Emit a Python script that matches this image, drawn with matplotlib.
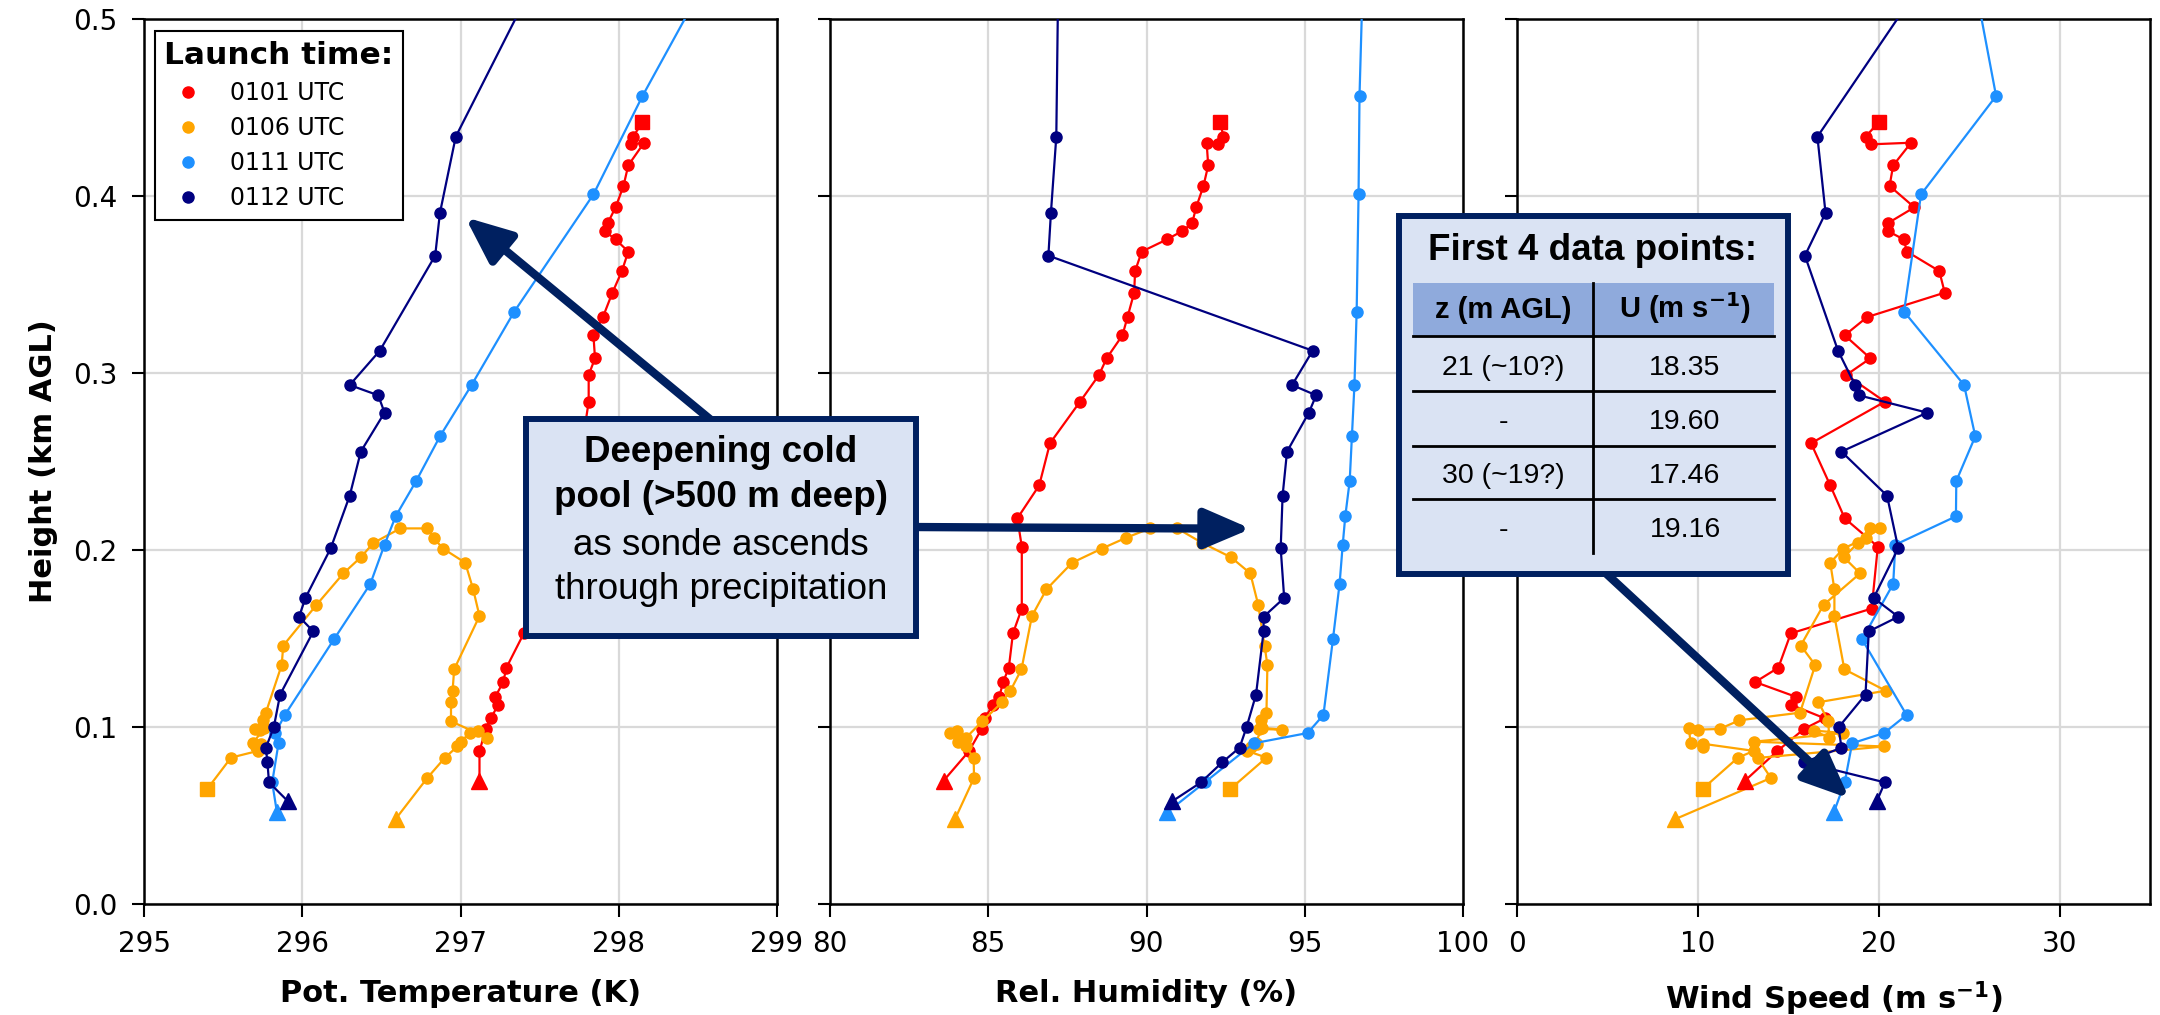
import matplotlib
matplotlib.use('Agg')
import matplotlib.pyplot as plt
from matplotlib.patches import Rectangle
from matplotlib.lines import Line2D
from matplotlib.ticker import FormatStrFormatter

W, H = 2160, 1015

# 0101 UTC sonde
z_0101 = [0.0697, 0.0863, 0.0989, 0.1049, 0.1126, 0.1171, 0.1254, 0.1335, 0.1529, 0.1669, 0.2019,
          0.2179, 0.2365, 0.2603, 0.2838, 0.2989, 0.3083, 0.3213, 0.3316, 0.3454, 0.3576, 0.3686,
          0.3755, 0.3802, 0.3846, 0.3936, 0.4057, 0.4173, 0.4301, 0.4292, 0.4335, 0.4416]
th_0101 = [297.12, 297.12, 297.16, 297.19, 297.24, 297.22, 297.27, 297.29, 297.40, 297.47, 297.58,
           297.64, 297.70, 297.77, 297.81, 297.81, 297.85, 297.84, 297.90, 297.96, 298.02, 298.06,
           297.98, 297.91, 297.93, 297.98, 298.03, 298.06, 298.16, 298.08, 298.09, 298.15]
rh_0101 = [83.59, 84.39, 84.79, 84.89, 85.15, 85.35, 85.47, 85.65, 85.78, 86.06, 86.06,
           85.92, 86.61, 86.95, 87.90, 88.50, 88.74, 89.24, 89.40, 89.61, 89.64, 89.85,
           90.65, 91.13, 91.44, 91.57, 91.80, 91.95, 91.90, 92.25, 92.43, 92.33]
ws_0101 = [12.61, 14.38, 15.87, 17.02, 15.14, 15.41, 13.17, 14.45, 15.14, 19.61, 19.95,
           18.12, 17.32, 16.26, 20.34, 18.21, 19.54, 18.12, 19.36, 23.65, 23.35, 21.56,
           21.38, 20.50, 20.50, 21.97, 20.60, 20.80, 21.79, 19.59, 19.27, 20.00]

# 0106 UTC sonde (goes up then comes back down)
z_0106 = [0.048, 0.0712, 0.0825, 0.089, 0.0917, 0.0966, 0.098, 0.094, 0.1032, 0.114, 0.1205,
          0.1326, 0.1627, 0.1778, 0.1928, 0.2008, 0.2068, 0.2122, 0.2122, 0.204, 0.1959, 0.1868,
          0.169, 0.146, 0.135, 0.1081, 0.1038, 0.0989, 0.0985, 0.0995, 0.091, 0.0885, 0.0905,
          0.0865, 0.0827, 0.065]
th_0106 = [296.59, 296.79, 296.90, 296.98, 297.00, 297.06, 297.11, 297.17, 296.94, 296.94, 296.95,
           296.96, 297.12, 297.08, 297.03, 296.89, 296.83, 296.79, 296.62, 296.45, 296.37, 296.26,
           296.09, 295.88, 295.87, 295.77, 295.75, 295.70, 295.73, 295.76, 295.69, 295.71, 295.74,
           295.72, 295.55, 295.40]
rh_0106 = [83.95, 84.55, 84.54, 84.30, 84.05, 83.80, 84.00, 84.30, 84.81, 85.44, 85.70,
           86.05, 86.38, 86.84, 87.65, 88.59, 89.34, 90.11, 90.97, 91.76, 92.67, 93.28,
           93.53, 93.73, 93.82, 93.79, 93.62, 93.55, 94.29, 93.65, 93.45, 93.30, 93.50,
           93.18, 93.79, 92.65]
ws_0106 = [8.76, 14.04, 13.30, 20.30, 13.09, 18.05, 16.40, 17.25, 17.22, 16.67, 20.39,
           18.10, 17.55, 17.55, 17.32, 18.05, 19.27, 20.07, 19.50, 18.85, 18.07, 18.97,
           16.95, 15.69, 16.49, 15.65, 12.30, 11.20, 10.00, 9.50, 9.60, 10.30, 10.30,
           13.10, 12.22, 10.26]

# 0111 UTC sonde
z_0111 = [0.0518, 0.0687, 0.0908, 0.0966, 0.1068, 0.1495, 0.1808, 0.203, 0.219, 0.239,
          0.2642, 0.2932, 0.3347, 0.4009, 0.4565, 0.52]
th_0111 = [295.84, 295.81, 295.85, 295.83, 295.89, 296.20, 296.43, 296.52, 296.59, 296.72,
           296.87, 297.07, 297.34, 297.84, 298.15, 298.54]
rh_0111 = [90.65, 91.84, 93.39, 95.09, 95.59, 95.89, 96.10, 96.20, 96.28, 96.42,
           96.49, 96.57, 96.64, 96.70, 96.73, 96.83]
ws_0111 = [17.52, 18.12, 18.53, 20.30, 21.54, 19.08, 20.80, 20.92, 24.27, 24.29,
           25.34, 24.72, 21.40, 22.34, 26.49, 25.32]

# 0112 UTC sonde
z_0112 = [0.058, 0.0687, 0.080, 0.0883, 0.0998, 0.1183, 0.154, 0.1623, 0.1729, 0.201,
          0.2307, 0.2556, 0.2776, 0.2874, 0.2932, 0.3126, 0.3663, 0.3904, 0.4335, 0.55]
th_0112 = [295.91, 295.79, 295.78, 295.77, 295.82, 295.86, 296.07, 295.98, 296.02, 296.18,
           296.30, 296.37, 296.52, 296.48, 296.30, 296.49, 296.84, 296.87, 296.97, 297.63]
rh_0112 = [90.81, 91.72, 92.39, 92.94, 93.16, 93.46, 93.70, 93.70, 94.35, 94.24,
           94.30, 94.44, 95.13, 95.36, 94.60, 95.25, 86.90, 86.98, 87.15, 87.23]
ws_0112 = [19.89, 20.34, 15.87, 17.94, 17.78, 19.27, 19.45, 21.08, 19.72, 21.08,
           20.46, 17.94, 22.68, 18.90, 18.69, 17.75, 15.92, 17.06, 16.61, 24.35]

launches = ['0101 UTC', '0106 UTC', '0111 UTC', '0112 UTC']
colors = ['red', 'orange', 'dodgerblue', 'navy']

table_z = ['21 (~10?)', '-', '30 (~19?)', '-']
table_u = ['18.35', '19.60', '17.46', '19.16']

BOX_FACE = '#dae3f3'
BOX_EDGE = '#002060'


def fx(px):
    return px / W


def fy(py):
    return 1 - py / H


def setup_axis(ax, xlim, xticks, xlabel):
    ax.set_xlim(xlim)
    ax.set_ylim(0, 0.5)
    ax.set_xticks(xticks)
    ax.set_yticks([0.0, 0.1, 0.2, 0.3, 0.4, 0.5])
    ax.yaxis.set_major_formatter(FormatStrFormatter('%.1f'))
    ax.grid(True, color='#d9d9d9', lw=1.6)
    ax.set_axisbelow(True)
    for sp in ax.spines.values():
        sp.set_linewidth(1.8)
    ax.tick_params(direction='out', length=9, width=1.5, labelsize=20, pad=10)
    ax.set_xlabel(xlabel, fontsize=22, fontweight='bold', labelpad=15)


def plot_sondes(ax, zs, xs):
    for z, x, c in zip(zs, xs, colors):
        ax.plot(x, z, '-', color=c, lw=1.6, zorder=3)
        ax.plot(x[1:-1], z[1:-1], 'o', color=c, ms=8, zorder=3)
        ax.plot(x[0], z[0], '^', color=c, ms=12, zorder=4)
        ax.plot(x[-1], z[-1], 's', color=c, ms=10, zorder=4)


def main():
    fig = plt.figure(figsize=(W / 100, H / 100), dpi=100)
    top, bot = 19, 904
    lefts = [144, 830, 1517]
    width = 633
    axes = [fig.add_axes([fx(l), fy(bot), width / W, (bot - top) / H]) for l in lefts]
    ax1, ax2, ax3 = axes

    zs = [z_0101, z_0106, z_0111, z_0112]
    plot_sondes(ax1, zs, [th_0101, th_0106, th_0111, th_0112])
    plot_sondes(ax2, zs, [rh_0101, rh_0106, rh_0111, rh_0112])
    plot_sondes(ax3, zs, [ws_0101, ws_0106, ws_0111, ws_0112])

    setup_axis(ax1, (295, 299), [295, 296, 297, 298, 299], 'Pot. Temperature (K)')
    setup_axis(ax2, (80, 100), [80, 85, 90, 95, 100], 'Rel. Humidity (%)')
    setup_axis(ax3, (0, 35), [0, 10, 20, 30], 'Wind Speed (m s$^{\\mathbf{-1}}$)')
    ax2.set_yticklabels([])
    ax3.set_yticklabels([])
    ax1.set_ylabel('Height (km AGL)', fontsize=22, fontweight='bold', labelpad=11)

    handles = [Line2D([], [], marker='o', ls='none', color=c, ms=8) for c in colors]
    leg = ax1.legend(handles, launches, loc='upper left', bbox_to_anchor=(0.017, 0.986),
                     borderaxespad=0, fontsize=17, title='Launch time:',
                     title_fontproperties={'weight': 'bold', 'size': 22.5},
                     fancybox=False, edgecolor='black', framealpha=1, alignment='left',
                     handlelength=2.0, handletextpad=0.8, labelspacing=0.47,
                     borderpad=0.4)
    leg.get_frame().set_linewidth(1.5)

    arrow = dict(arrowstyle='-|>,head_length=1.4,head_width=0.6', lw=6,
                 color=BOX_EDGE, mutation_scale=20, shrinkA=0, shrinkB=0)
    ax1.annotate('', xy=(297.03, 0.388), xytext=(fx(717), fy(425)),
                 textcoords='figure fraction', arrowprops=arrow, annotation_clip=False)
    ax2.annotate('', xy=(93.3, 0.212), xytext=(fx(910), fy(527)),
                 textcoords='figure fraction', arrowprops=arrow, annotation_clip=False)
    ax3.annotate('', xy=(18.37, 0.0596), xytext=(fx(1597), fy(565)),
                 textcoords='figure fraction', arrowprops=arrow, annotation_clip=False)

    # cold pool text box
    fig.add_artist(Rectangle((fx(526), fy(636)), (916 - 526) / W, (636 - 419) / H,
                             transform=fig.transFigure, facecolor=BOX_FACE,
                             edgecolor=BOX_EDGE, lw=4.3, zorder=5))
    box_lines = [('Deepening cold', 'bold', 462), ('pool (>500 m deep)', 'bold', 507),
                 ('as sonde ascends', 'normal', 555), ('through precipitation', 'normal', 599)]
    for txt, wt, yb in box_lines:
        fig.text(fx(721), fy(yb), txt, ha='center', va='baseline', fontsize=26.5,
                 fontweight=wt, family='Liberation Sans', zorder=6)

    # table box
    fig.add_artist(Rectangle((fx(1399), fy(574)), (1788 - 1399) / W, (574 - 216) / H,
                             transform=fig.transFigure, facecolor=BOX_FACE,
                             edgecolor=BOX_EDGE, lw=4.3, zorder=5))
    fig.add_artist(Rectangle((fx(1413), fy(336)), (1774 - 1413) / W, (336 - 283) / H,
                             transform=fig.transFigure, facecolor='#8faadc',
                             edgecolor='none', zorder=6))
    for yl in [336, 391, 446, 499]:
        fig.add_artist(Line2D([fx(1413), fx(1774)], [fy(yl), fy(yl)], color='black',
                              lw=2, transform=fig.transFigure, zorder=7))
    fig.add_artist(Line2D([fx(1593), fx(1593)], [fy(283), fy(553)], color='black',
                          lw=2, transform=fig.transFigure, zorder=7))
    fig.text(fx(1593), fy(260), 'First 4 data points:', ha='center', va='baseline',
             fontsize=26.5, fontweight='bold', family='Liberation Sans', zorder=8)
    fig.text(fx(1503), fy(318), 'z (m AGL)', ha='center', va='baseline', fontsize=21,
             fontweight='bold', family='Liberation Sans', zorder=8)
    fig.text(fx(1685), fy(318), 'U (m s$^{\\mathbf{-1}}$)', ha='center', va='baseline',
             fontsize=21, fontweight='bold', family='Liberation Sans', zorder=8)
    for i, (zt, ut) in enumerate(zip(table_z, table_u)):
        yb = 375 + i * 54
        fig.text(fx(1503), fy(yb), zt, ha='center', va='baseline', fontsize=20.5,
                 family='Liberation Sans', zorder=8)
        fig.text(fx(1685), fy(yb), ut, ha='center', va='baseline', fontsize=20.5,
                 family='Liberation Sans', zorder=8)

    fig.savefig('out.png', dpi=100)
    plt.close(fig)


if __name__ == "__main__":
    main()
